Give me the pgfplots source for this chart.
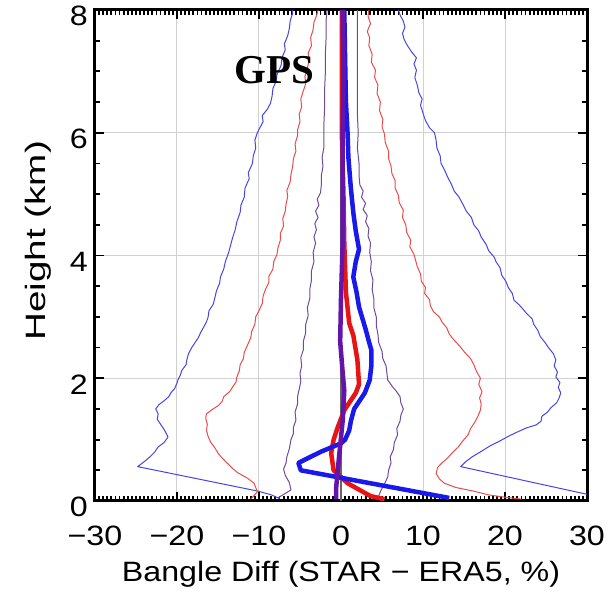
\documentclass[border=0pt]{standalone}
\usepackage{pgfplots}
\pgfplotsset{compat=1.18}
\usepackage{fontspec}
\setmainfont{Liberation Sans}[FakeStretch=1.15]
\newfontfamily\gpsfont{Liberation Serif}
\definecolor{tblue}{RGB}{70,70,225}
\definecolor{tred}{RGB}{235,75,75}
\definecolor{tpurp}{RGB}{110,75,155}
\definecolor{kblue}{RGB}{25,25,235}
\definecolor{kred}{RGB}{230,20,20}
\definecolor{kpurp}{RGB}{100,20,170}
\begin{document}
\begin{tikzpicture}
\path[use as bounding box] (-95pt,-92pt) rectangle (515pt,501pt);
\begin{axis}[
  at={(0,0)}, anchor=south west,
  width=492pt, height=491pt, scale only axis,
  xmin=-30, xmax=30, ymin=0, ymax=8,
  xtick={-30,-20,-10,0,10,20,30},
  xticklabels={−30,−20,−10,0,10,20,30},
  ytick={0,2,4,6,8},
  yticklabels={0,2,4,6,8},
  minor x tick num=19, minor y tick num=3,
  tick align=inside,
  major tick length=9pt, minor tick length=5pt,
  tick style={black, line width=1.8pt},
  axis line style={line width=3pt},
  grid=major, major grid style={black!18, line width=1pt},
  ticklabel style={font=\fontsize{28}{32}\selectfont, inner sep=0pt},
  xticklabel style={yshift=-25pt},
  yticklabel style={xshift=-7pt, yshift=-6pt},
  label style={font=\fontsize{28}{32}\selectfont},
  xlabel={Bangle Diff (STAR − ERA5, \%)},
  xlabel style={at={(axis description cs:0.5,0)}, anchor=base, yshift=-81pt, inner sep=0pt},
  ylabel={\scalebox{1.2}[1]{Height (km)}},
  ylabel style={at={(axis description cs:-0.0996,0.53)}, anchor=base, inner sep=0pt},
  every axis plot/.append style={line join=round},
]
% outer thin blue, left
\addplot[tblue, line width=1pt] coordinates {
(-7.5,0.04) (-8.5,0.1) (-10.1,0.16) (-24.8,0.56) (-24.0,0.64) (-23.3,0.72) (-22.7,0.8)
(-22.3,0.88) (-21.6,0.95) (-21.1,1.04) (-21.3,1.1) (-21.6,1.17) (-22.0,1.25) (-22.4,1.33)
(-22.3,1.42) (-22.6,1.5) (-22.2,1.57) (-21.6,1.63) (-21.0,1.7) (-20.7,1.77) (-20.3,1.83)
(-20.0,1.92) (-19.9,1.97) (-19.6,2.05) (-19.4,2.13) (-18.9,2.22) (-18.8,2.3) (-18.6,2.4)
(-18.2,2.5) (-17.8,2.58) (-17.4,2.66) (-17.1,2.75) (-16.8,2.82) (-16.4,2.92) (-16.2,3.0)
(-16.1,3.1) (-15.6,3.2) (-15.4,3.3) (-15.2,3.42) (-14.8,3.55) (-14.7,3.65) (-14.3,3.78)
(-14.1,3.9) (-13.7,4.05) (-13.5,4.15) (-13.2,4.3) (-12.9,4.42) (-12.7,4.55) (-12.3,4.7)
(-12.2,4.82) (-11.8,4.95) (-11.7,5.1) (-11.2,5.25) (-11.3,5.35) (-10.8,5.5) (-10.7,5.62)
(-10.4,5.75) (-10.5,5.88) (-10.2,6.0) (-9.9,6.08) (-9.5,6.18) (-9.6,6.28) (-9.0,6.38)
(-8.6,6.48) (-8.4,6.6) (-8.3,6.72) (-7.9,6.85) (-7.8,6.95) (-7.3,7.1) (-7.2,7.22)
(-6.8,7.35) (-6.9,7.45) (-6.5,7.58) (-6.3,7.7) (-6.2,7.82) (-5.9,7.95) (-5.9,8.0)};
% outer thin blue, right
\addplot[tblue, line width=1pt] coordinates {
(31,0.08) (14.6,0.56) (15.2,0.64) (16.0,0.72) (17.0,0.8) (18.2,0.9) (19.4,0.98) (20.5,1.06)
(21.6,1.13) (22.6,1.19) (23.8,1.24) (24.4,1.3) (24.5,1.38) (25.2,1.45) (25.6,1.52) (26.3,1.6)
(26.6,1.68) (26.8,1.76) (26.5,1.85) (26.7,1.93) (26.2,2.02) (26.4,2.1) (26.0,2.2) (26.2,2.3)
(25.9,2.4) (25.3,2.5) (24.9,2.58) (24.3,2.68) (24.0,2.78) (23.5,2.88) (23.3,2.97) (22.6,3.06)
(22.1,3.14) (21.7,3.2) (21.1,3.27) (20.9,3.38) (20.4,3.48) (20.1,3.58) (19.6,3.68) (19.4,3.8)
(18.9,3.9) (18.7,3.97) (18.0,4.08) (17.7,4.18) (17.1,4.3) (16.8,4.4) (16.2,4.5) (15.9,4.62)
(15.3,4.72) (14.8,4.85) (14.4,4.95) (13.8,5.05) (13.5,5.15) (13.0,5.28) (12.6,5.4) (12.2,5.5)
(12.1,5.62) (11.7,5.75) (11.6,5.88) (11.4,6.0) (10.8,6.08) (10.3,6.2) (10.0,6.32) (9.7,6.45)
(9.9,6.55) (9.5,6.65) (9.3,6.78) (9.0,6.9) (9.2,7.02) (8.9,7.12) (9.2,7.22) (8.6,7.32)
(8.1,7.42) (7.7,7.52) (7.5,7.62) (7.8,7.72) (7.6,7.82) (7.2,7.92) (7.0,8.0)};
% middle thin red, left
\addplot[tred, line width=1pt] coordinates {
(-11.0,0.03) (-10.2,0.15) (-10.6,0.29) (-11.5,0.38) (-12.6,0.46) (-13.3,0.54) (-13.9,0.62)
(-14.5,0.7) (-15.0,0.78) (-15.4,0.87) (-15.9,0.96) (-16.2,1.05) (-16.4,1.15) (-16.3,1.25)
(-16.5,1.35) (-16.4,1.42) (-15.6,1.5) (-14.9,1.56) (-14.5,1.62) (-14.3,1.7) (-13.6,1.78)
(-13.2,1.86) (-12.8,1.94) (-12.7,2.02) (-12.4,2.12) (-12.3,2.22) (-11.9,2.32) (-11.8,2.42)
(-11.4,2.54) (-11.0,2.66) (-10.9,2.76) (-10.5,2.88) (-10.4,3.0) (-10.0,3.1) (-9.6,3.22)
(-9.5,3.34) (-9.2,3.45) (-8.8,3.56) (-8.8,3.66) (-8.3,3.78) (-8.2,3.9) (-7.8,4.02) (-7.7,4.12)
(-7.4,4.25) (-7.4,4.36) (-7.0,4.48) (-7.1,4.6) (-6.8,4.72) (-6.7,4.84) (-6.5,4.96) (-6.6,5.06)
(-6.2,5.2) (-6.1,5.32) (-5.9,5.45) (-5.8,5.58) (-5.5,5.7) (-5.6,5.82) (-5.3,5.95) (-5.3,6.05)
(-5.0,6.18) (-5.1,6.3) (-4.8,6.42) (-4.9,6.55) (-4.6,6.68) (-4.3,6.8) (-4.4,6.92) (-4.1,7.05)
(-3.9,7.18) (-4.0,7.3) (-3.6,7.42) (-3.7,7.55) (-3.4,7.68) (-3.3,7.8) (-3.0,7.9) (-2.8,8.0)};
% middle thin red, right
\addplot[tred, line width=1pt] coordinates {
(22.0,0.03) (19.5,0.07) (18,0.1) (16.2,0.16) (14.0,0.22) (12.6,0.29) (12.0,0.36) (11.6,0.45)
(11.8,0.55) (12.3,0.62) (13.0,0.7) (13.6,0.79) (14.3,0.88) (14.8,0.97) (15.5,1.08) (15.8,1.18)
(16.3,1.28) (16.7,1.38) (17.0,1.48) (17.1,1.58) (16.9,1.68) (17.2,1.78) (16.8,1.9) (17.0,2.0)
(16.5,2.12) (16.2,2.22) (15.8,2.32) (15.1,2.42) (14.5,2.52) (13.8,2.62) (13.2,2.72) (12.9,2.82)
(12.3,2.92) (12.0,3.0) (11.3,3.08) (10.9,3.18) (10.8,3.28) (10.2,3.38) (10.3,3.48) (9.8,3.58)
(9.7,3.7) (9.3,3.82) (9.1,3.92) (8.9,4.02) (8.4,4.14) (8.5,4.25) (8.0,4.38) (7.9,4.5) (7.5,4.62)
(7.6,4.74) (7.1,4.86) (7.0,4.98) (6.6,5.1) (6.6,5.22) (6.2,5.34) (6.1,5.46) (5.8,5.58) (5.8,5.7)
(5.4,5.84) (5.3,5.98) (5.0,6.1) (5.1,6.22) (4.7,6.36) (4.8,6.5) (4.4,6.64) (4.5,6.78) (4.1,6.9)
(4.2,7.02) (3.7,7.15) (3.8,7.28) (3.4,7.42) (3.5,7.55) (3.2,7.65) (3.6,7.78) (3.3,7.9) (3.4,8.0)};
% inner thin purple, left
\addplot[tpurp, line width=1pt] coordinates {
(-7.7,0.05) (-6.1,0.18) (-6.3,0.3) (-6.8,0.42) (-7.0,0.52) (-6.7,0.62) (-6.6,0.72) (-6.3,0.85)
(-6.1,1.0) (-5.8,1.1) (-5.8,1.2) (-5.5,1.32) (-5.6,1.45) (-5.3,1.58) (-5.3,1.7) (-5.1,1.82)
(-4.9,1.95) (-5.0,2.08) (-4.8,2.2) (-4.9,2.34) (-4.6,2.46) (-4.6,2.6) (-4.3,2.74) (-4.3,2.88)
(-4.0,3.02) (-4.1,3.15) (-3.8,3.3) (-3.8,3.45) (-3.6,3.6) (-3.6,3.75) (-3.3,3.9) (-3.4,4.05)
(-3.1,4.2) (-3.3,4.3) (-3.0,4.42) (-3.2,4.52) (-2.8,4.62) (-3.1,4.72) (-2.7,4.82) (-2.9,4.92)
(-2.5,5.02) (-2.4,5.15) (-2.4,5.3) (-2.2,5.45) (-2.3,5.6) (-2.1,5.75) (-2.1,5.9) (-2.1,6.1)
(-2.0,6.4) (-2.0,6.7) (-1.9,7.0) (-1.9,7.3) (-1.8,7.6) (-1.8,7.85) (-1.7,8.0)};
% inner thin purple, right
\addplot[tpurp, line width=1pt] coordinates {
(4.5,0.05) (4.9,0.18) (5.3,0.28) (5.7,0.39) (5.8,0.5) (6.1,0.62) (6.0,0.72) (6.4,0.84)
(6.5,0.95) (6.9,1.08) (6.8,1.18) (7.2,1.3) (7.3,1.4) (7.6,1.5) (7.3,1.6) (7.2,1.7) (6.8,1.78)
(6.3,1.86) (5.7,1.97) (5.6,2.08) (5.5,2.2) (5.1,2.32) (5.0,2.44) (4.6,2.58) (4.5,2.72)
(4.3,2.86) (4.3,3.0) (4.0,3.15) (4.0,3.3) (3.8,3.45) (3.9,3.6) (3.6,3.75) (3.7,3.9) (3.5,4.05)
(3.6,4.2) (3.3,4.32) (3.4,4.44) (3.0,4.55) (3.2,4.65) (2.7,4.75) (3.0,4.85) (2.5,4.95)
(2.7,5.05) (2.3,5.15) (2.2,5.3) (2.2,5.5) (2.0,5.75) (2.1,6.0) (2.0,6.3) (2.0,6.6) (2.0,7.0)
(2.0,7.4) (2.0,7.8) (2.0,8.0)};
% zero line
\addplot[black!60, line width=2pt] coordinates {(0,0) (0,8)};
% thick red
\addplot[kred, line width=4.5pt] coordinates {
(5.3,0.03) (3.6,0.08) (0.8,0.29) (-0.9,0.5) (-1.2,0.78) (-0.9,1.0) (-0.4,1.2) (0.4,1.48)
(1.8,1.76) (2.2,1.9) (2.0,2.3) (1.5,2.7) (1.0,2.9) (0.6,3.4) (0.4,4.2) (0.3,5.0) (0.1,6.0)
(0.1,7.0) (0.1,8.0)};
% thick blue
\addplot[kblue, line width=4.5pt] coordinates {
(13.2,0.05) (-4.9,0.5) (-5.2,0.62) (-2.5,0.8) (0.0,0.94) (0.5,1.0) (1.0,1.15) (1.2,1.3)
(1.6,1.5) (2.9,1.76) (3.5,1.97) (3.7,2.2) (3.7,2.46) (3.4,2.6) (3.0,2.8) (2.2,3.16) (1.9,3.4)
(1.5,3.65) (1.8,3.9) (2.2,4.1) (2.0,4.25) (1.8,4.4) (1.5,4.7) (1.2,5.1) (0.9,5.6) (0.8,6.0)
(0.6,6.5) (0.5,7.2) (0.4,8.0)};
% thick purple
\addplot[kpurp, line width=4.5pt] coordinates {
(-0.6,0.03) (-0.6,0.2) (-0.4,0.5) (-0.1,0.9) (0.2,1.3) (0.4,1.8) (0.2,2.1) (-0.1,2.6)
(0.0,3.3) (0.2,4.2) (0.2,5.0) (0.2,6.0) (0.3,7.0) (0.2,8.0)};
\node[anchor=base west, inner sep=0pt, font=\gpsfont\bfseries\fontsize{41}{45}\selectfont]
  at (axis cs:-13.05,6.81) {GPS};
\end{axis}
\end{tikzpicture}
\end{document}
